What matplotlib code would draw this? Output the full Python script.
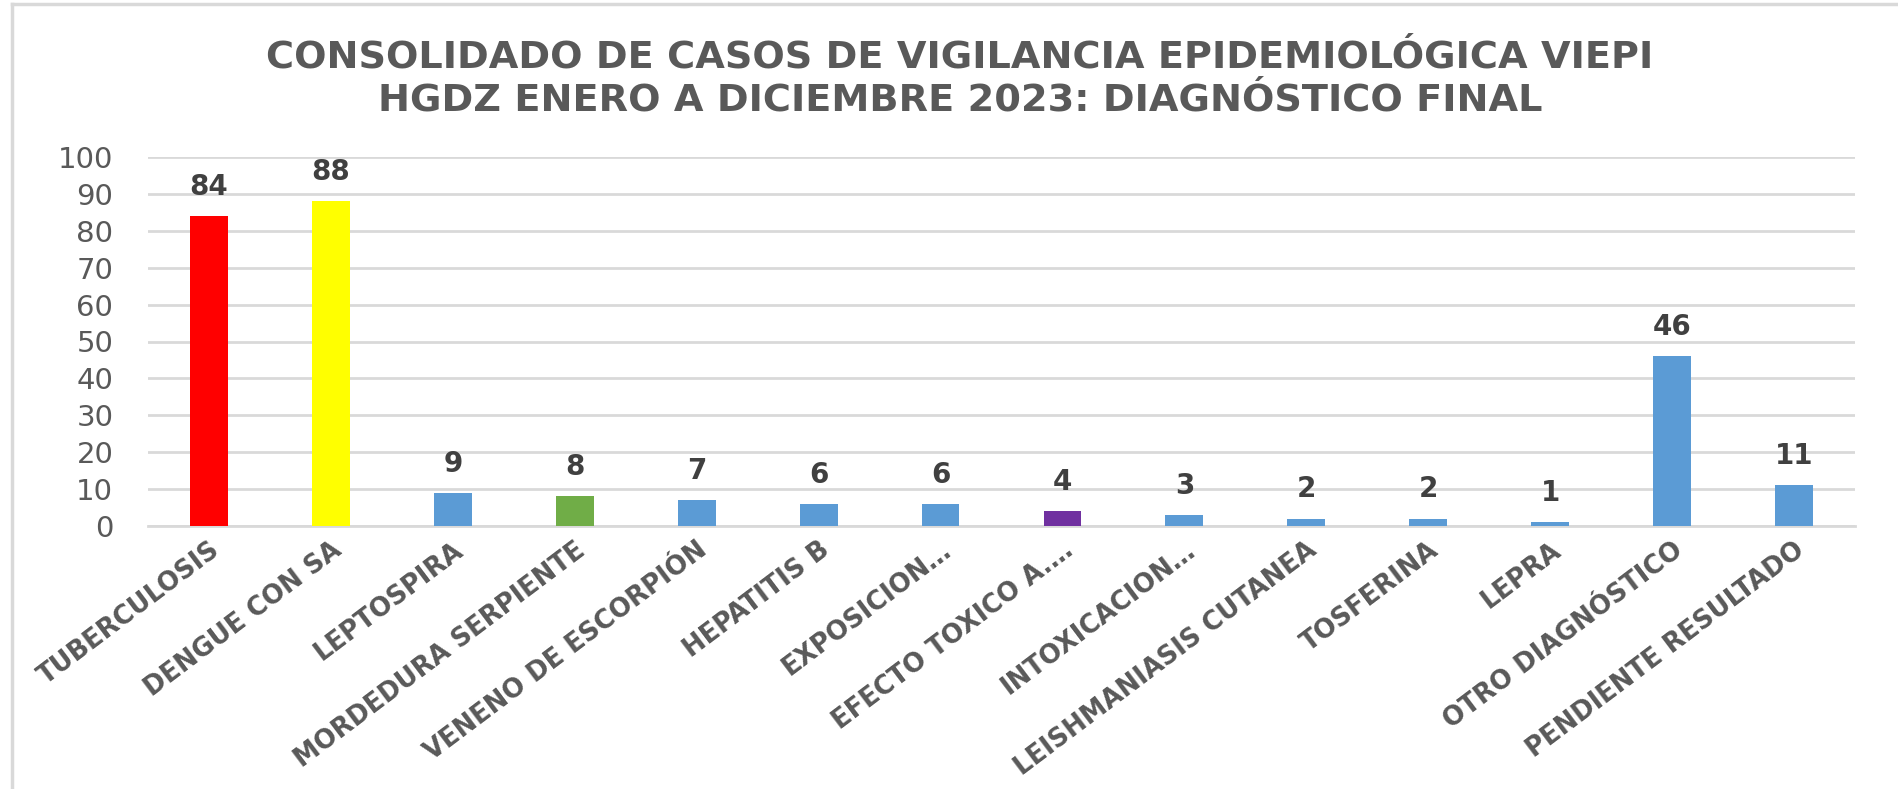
import matplotlib
matplotlib.use('Agg')
import matplotlib.pyplot as plt
from matplotlib.lines import Line2D

# datos del grafico
categorias = ['TUBERCULOSIS', 'DENGUE CON SA', 'LEPTOSPIRA', 'MORDEDURA SERPIENTE',
              'VENENO DE ESCORPIÓN', 'HEPATITIS B', 'EXPOSICION…', 'EFECTO TOXICO A.…',
              'INTOXICACION…', 'LEISHMANIASIS CUTANEA', 'TOSFERINA', 'LEPRA',
              'OTRO DIAGNÓSTICO', 'PENDIENTE RESULTADO']
casos = [84, 88, 9, 8, 7, 6, 6, 4, 3, 2, 2, 1, 46, 11]
colores = ['#FF0000', '#FFFF00', '#5B9BD5', '#70AD47', '#5B9BD5', '#5B9BD5', '#5B9BD5',
           '#7030A0', '#5B9BD5', '#5B9BD5', '#5B9BD5', '#5B9BD5', '#5B9BD5', '#5B9BD5']
y_ticks = [0, 10, 20, 30, 40, 50, 60, 70, 80, 90, 100]

titulo = 'CONSOLIDADO DE CASOS DE VIGILANCIA EPIDEMIOLÓGICA VIEPI\nHGDZ ENERO A DICIEMBRE 2023: DIAGNÓSTICO FINAL'

gris = '#595959'
gris_linea = '#D9D9D9'

fig = plt.figure(figsize=(18.98, 7.89), dpi=100)
ax = fig.add_axes([148/1898, 1 - 526/789, (1855-148)/1898, (526-157)/789])

x = range(len(categorias))
bars = ax.bar(x, casos, width=0.31, color=colores, zorder=3)

for b, v in zip(bars, casos):
    ax.annotate(str(v), (b.get_x() + b.get_width()/2, v), xytext=(0, 11),
                textcoords='offset points', ha='center', va='bottom',
                fontsize=20, fontweight='bold', color='#404040')

ax.set_xlim(-0.5, len(categorias) - 0.5)
ax.set_ylim(0, 100)
ax.set_yticks(y_ticks)
ax.yaxis.grid(True, color=gris_linea, linewidth=2, zorder=0)
ax.set_axisbelow(True)
for s in ['top', 'right', 'left']:
    ax.spines[s].set_visible(False)
ax.spines['bottom'].set_color(gris_linea)
ax.spines['bottom'].set_linewidth(2)
ax.tick_params(axis='both', length=0)
ax.tick_params(axis='y', labelsize=21, labelcolor=gris, pad=25)

ax.set_xticks(list(x))
ax.set_xticklabels(categorias, rotation=37, ha='right', va='top', rotation_mode='anchor',
                   fontsize=18.5, fontweight='bold', color=gris)
ax.tick_params(axis='x', pad=8)

fig.text(960/1898, 1 - 79/789, titulo, ha='center', va='center', fontsize=27.5,
         fontweight='bold', color=gris, linespacing=1.25)

# borde del grafico
fig.add_artist(Line2D([12/1898, 12/1898], [0, 1 - 4/789], transform=fig.transFigure,
                      color=gris_linea, linewidth=2.5))
fig.add_artist(Line2D([12/1898, 1], [1 - 4/789, 1 - 4/789], transform=fig.transFigure,
                      color=gris_linea, linewidth=2.5))

plt.savefig('out.png', dpi=100)
plt.close()
